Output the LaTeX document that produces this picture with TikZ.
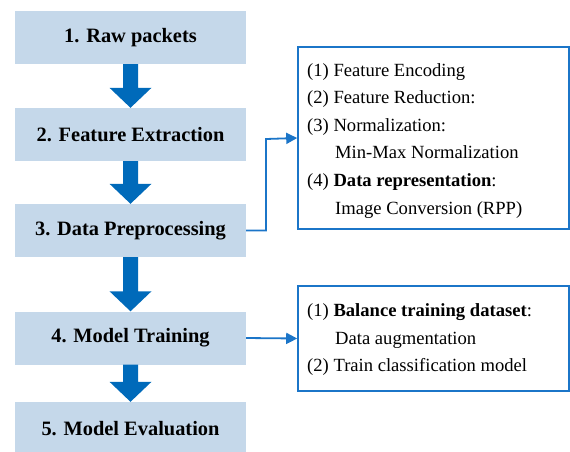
\documentclass[tikz,border=0pt]{standalone}
\usepackage{fontspec}
\setmainfont{Liberation Serif}
\usetikzlibrary{arrows.meta,calc}
\definecolor{stepfill}{RGB}{197,216,234}
\definecolor{flowblue}{RGB}{0,106,186}
\definecolor{linkblue}{RGB}{27,117,200}
\tikzset{
  stepbox/.style={fill=stepfill, draw=none, minimum width=231pt, minimum height=53pt,
    inner sep=0pt, font=\fontsize{20.4}{24}\selectfont\bfseries},
  notebox/.style={draw=linkblue, line width=1.6pt, fill=white, minimum width=271pt, inner sep=0pt},
  noteline/.style={anchor=base west, inner sep=0pt, font=\fontsize{18.6}{22}\selectfont},
  link/.style={draw=linkblue, line width=1.8pt, -{Triangle[length=11pt,width=11pt]}},
  bigarrow/.style={fill=flowblue}
}
% thick block arrow from the bottom of #1 to the top of #2
\newcommand{\flowarrow}[2]{%
  \fill[bigarrow] let \p1=(#1.south), \p2=(#2.north) in
    (\x1-7.5pt,\y1) -- (\x1-7.5pt,\y2+20pt) -- (\x1-21pt,\y2+20pt) -- (\x2,\y2)
    -- (\x1+21pt,\y2+20pt) -- (\x1+7.5pt,\y2+20pt) -- (\x1+7.5pt,\y1) -- cycle;}
\begin{document}
\begin{tikzpicture}[x=1pt,y=-1pt]
\useasboundingbox (0,0) rectangle (570,451);

% main pipeline
\node[stepbox] (s1) at (130.5,37.5)  {1. Raw packets};
\node[stepbox] (s2) at (130.5,134.5) {2. Feature Extraction};
\node[stepbox] (s3) at (130.5,230.5) {3. Data Preprocessing};
\node[stepbox] (s4) at (130.5,338)   {4. Model Training};
\node[stepbox] (s5) at (130.5,428.5) {5. Model Evaluation};

\flowarrow{s1}{s2}
\flowarrow{s2}{s3}
\flowarrow{s3}{s4}
\flowarrow{s4}{s5}

% detail boxes
\node[notebox, minimum height=182pt] (n1) at (433.5,138) {};
\node[notebox, minimum height=105pt] (n2) at (433.5,338.5) {};

\node[noteline] (p1) at (307,76)    {(1) Feature Encoding};
\node[noteline] (p2) at (307,103.6) {(2) Feature Reduction:};
\node[noteline] (p3) at (307,131.2) {(3) Normalization:};
\node[noteline] (p4) at (335,158.8) {Min-Max Normalization};
\node[noteline] (p5) at (307,186.4) {(4) \textbf{Data representation}:};
\node[noteline] (p6) at (335,214)   {Image Conversion (RPP)};

\node[noteline] (t1) at (307,316.5) {(1) \textbf{Balance training dataset}:};
\node[noteline] (t2) at (335,344.2) {Data augmentation};
\node[noteline] (t3) at (307,371.8) {(2) Train classification model};

% connectors
\draw[link] (s3.east) -| (266,139) -- (n1.west);
\draw[link] (s4.east) -- (n2.west);
\end{tikzpicture}
\end{document}
